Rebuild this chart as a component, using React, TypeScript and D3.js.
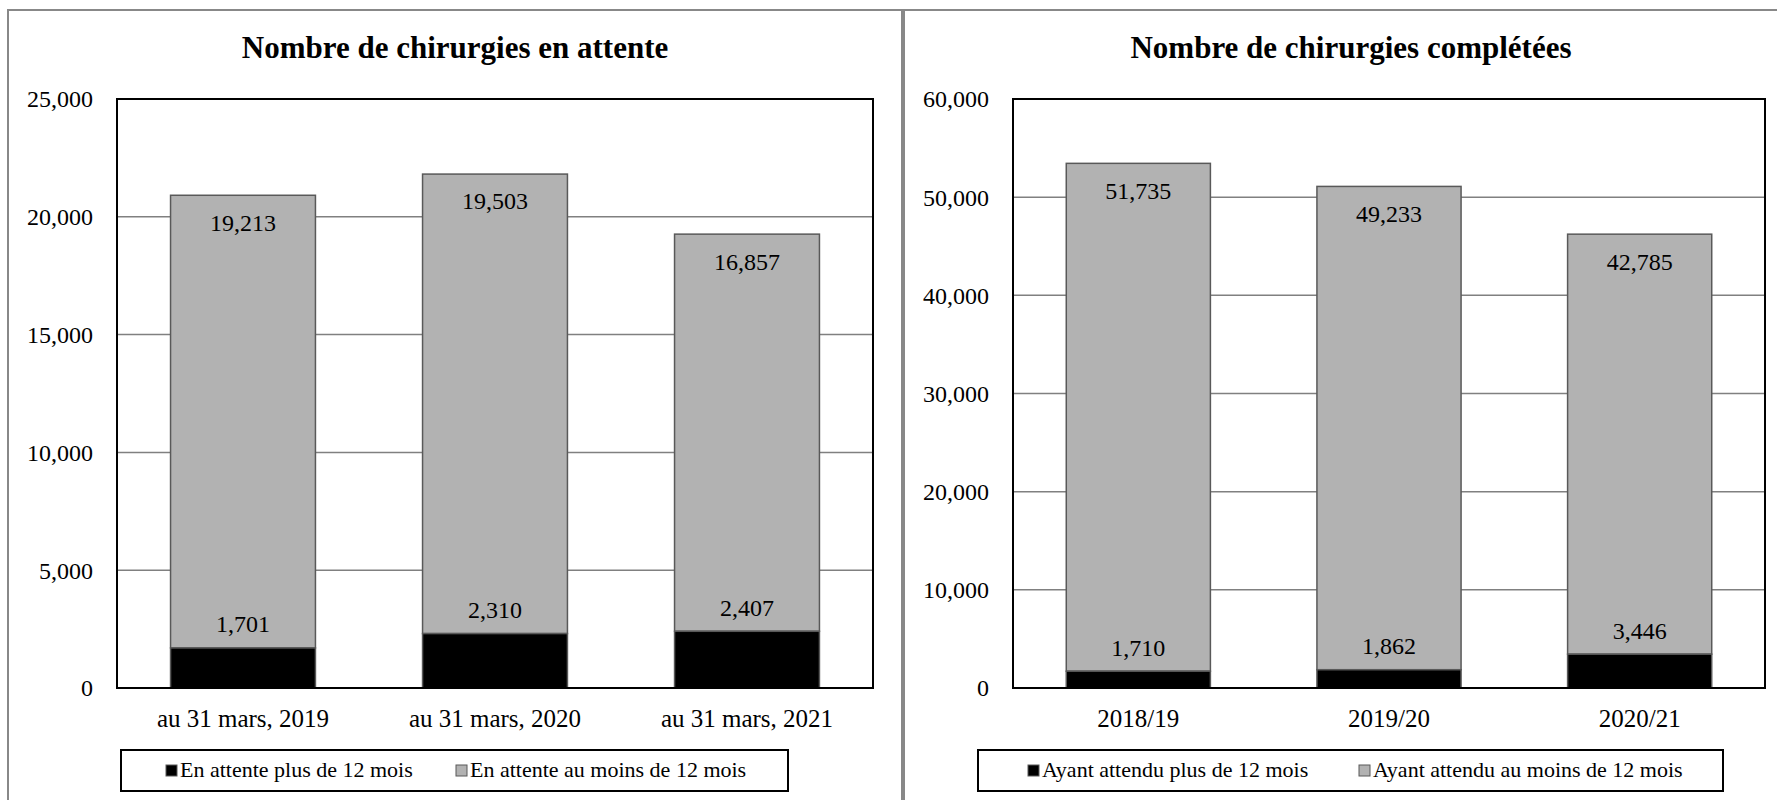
import React from "react";
import * as d3 from "d3";

// left chart: waiting list
const waitCategories = ["au 31 mars, 2019", "au 31 mars, 2020", "au 31 mars, 2021"];
const waitOver12 = [1701, 2310, 2407];
const waitUnder12 = [19213, 19503, 16857];
const waitTicks = [0, 5000, 10000, 15000, 20000, 25000];

// right chart: completed surgeries
const doneCategories = ["2018/19", "2019/20", "2020/21"];
const doneOver12 = [1710, 1862, 3446];
const doneUnder12 = [51735, 49233, 42785];
const doneTicks = [0, 10000, 20000, 30000, 40000, 50000, 60000];

const FONT = "'Liberation Serif', 'DejaVu Serif', serif";
const fmt = d3.format(",");

const panels = [
  {
    title: "Nombre de chirurgies en attente",
    cats: waitCategories,
    low: waitOver12,
    high: waitUnder12,
    ticks: waitTicks,
    legend: ["En attente plus de 12 mois", "En attente au moins de 12 mois"],
    px: 8,
    plot: { x0: 117, x1: 873 },
    legendBox: { x0: 121, x1: 788 },
    legendItems: [166, 456],
  },
  {
    title: "Nombre de chirurgies complétées",
    cats: doneCategories,
    low: doneOver12,
    high: doneUnder12,
    ticks: doneTicks,
    legend: ["Ayant attendu plus de 12 mois", "Ayant attendu au moins de 12 mois"],
    px: 904,
    plot: { x0: 1013, x1: 1765 },
    legendBox: { x0: 978, x1: 1723 },
    legendItems: [1028, 1359],
  },
];

const plotTop = 99;
const plotBottom = 688;
const panelW = 894;

function Panel({ p }: { p: (typeof panels)[number] }) {
  const x = d3
    .scaleBand<string>()
    .domain(p.cats)
    .range([p.plot.x0, p.plot.x1])
    .paddingInner(0.425)
    .paddingOuter(0.2125);
  const y = d3
    .scaleLinear()
    .domain([0, d3.max(p.ticks) as number])
    .range([plotBottom, plotTop]);
  const cx = p.px + panelW / 2;

  return (
    <g fontFamily={FONT}>
      <text x={cx} y={58} textAnchor="middle" fontSize={31} fontWeight="bold" fill="#000">
        {p.title}
      </text>

      {/* gridlines */}
      {p.ticks.slice(1, -1).map((t) => (
        <line key={t} x1={p.plot.x0} x2={p.plot.x1} y1={y(t)} y2={y(t)} stroke="#808080" strokeWidth={1.5} />
      ))}

      {/* tick labels */}
      {p.ticks.map((t) => (
        <text key={t} x={p.plot.x0 - 24} y={y(t)} dy="0.35em" textAnchor="end" fontSize={24} fill="#000">
          {fmt(t)}
        </text>
      ))}

      {/* bars */}
      {p.cats.map((c, i) => {
        const lo = p.low[i];
        const hi = p.high[i];
        const bx = x(c) as number;
        const bw = x.bandwidth();
        return (
          <g key={c}>
            <rect x={bx} y={y(lo + hi)} width={bw} height={y(lo) - y(lo + hi)} fill="#b2b2b2" stroke="#595959" strokeWidth={1.5} />
            <rect x={bx} y={y(lo)} width={bw} height={y(0) - y(lo)} fill="#000" stroke="#595959" strokeWidth={1.5} />
            <text x={bx + bw / 2} y={y(lo + hi) + 27} dy="0.35em" textAnchor="middle" fontSize={24}>
              {fmt(hi)}
            </text>
            <text x={bx + bw / 2} y={y(lo) - 24} dy="0.35em" textAnchor="middle" fontSize={24}>
              {fmt(lo)}
            </text>
            <text x={bx + bw / 2} y={727} textAnchor="middle" fontSize={25}>
              {c}
            </text>
          </g>
        );
      })}

      {/* plot frame */}
      <rect x={p.plot.x0} y={plotTop} width={p.plot.x1 - p.plot.x0} height={plotBottom - plotTop} fill="none" stroke="#000" strokeWidth={2} />

      {/* legend */}
      <rect x={p.legendBox.x0} y={750} width={p.legendBox.x1 - p.legendBox.x0} height={41} fill="#fff" stroke="#000" strokeWidth={2} />
      {p.legend.map((l, i) => (
        <g key={l}>
          <rect x={p.legendItems[i]} y={765} width={11} height={11} fill={i === 0 ? "#000" : "#b2b2b2"} stroke="#595959" strokeWidth={1} />
          <text x={p.legendItems[i] + 14} y={777} fontSize={22}>
            {l}
          </text>
        </g>
      ))}
    </g>
  );
}

export default function App() {
  return (
    <svg width={1777} height={800} style={{ position: "absolute", left: 0, top: 0, background: "#fff" }}>
      {/* panel borders */}
      <rect x={8} y={10} width={894} height={800} fill="none" stroke="#888" strokeWidth={2} />
      <rect x={904} y={10} width={900} height={800} fill="none" stroke="#888" strokeWidth={2} />
      {panels.map((p) => (
        <Panel key={p.title} p={p} />
      ))}
    </svg>
  );
}
